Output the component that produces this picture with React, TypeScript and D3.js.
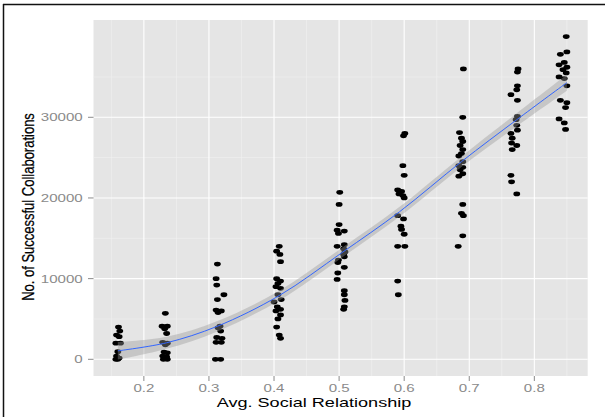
import React from "react";
import * as d3 from "d3";

// ---- data ----
const g016: [number, number][] = [[0.161,4000],[0.163,3500],[0.158,3000],[0.162,2800],[0.157,2000],[0.164,2000],[0.160,950],[0.158,400],[0.162,150],[0.160,0],[0.157,0]];
const g023: [number, number][] = [[0.233,5700],[0.228,4100],[0.236,4100],[0.232,3800],[0.235,3200],[0.229,2100],[0.236,2000],[0.233,1800],[0.231,900],[0.236,800],[0.229,400],[0.235,300],[0.230,0],[0.236,0]];
const g031: [number, number][] = [[0.313,11800],[0.311,10000],[0.312,9200],[0.323,8000],[0.313,7400],[0.311,6100],[0.319,6000],[0.314,5800],[0.317,4100],[0.314,3900],[0.318,3500],[0.312,2700],[0.320,2600],[0.311,2100],[0.319,2100],[0.310,0],[0.318,0]];
const g041: [number, number][] = [[0.408,14000],[0.404,13400],[0.409,13000],[0.410,12100],[0.404,10000],[0.410,9700],[0.406,9400],[0.403,9000],[0.410,8800],[0.406,8000],[0.411,7400],[0.400,7100],[0.405,6500],[0.410,6200],[0.403,6000],[0.410,5500],[0.406,5000],[0.404,4000],[0.408,3000],[0.410,2600]];
const g050: [number, number][] = [[0.501,20700],[0.500,19200],[0.500,16700],[0.497,16000],[0.508,15900],[0.499,15600],[0.508,14200],[0.497,14000],[0.507,13700],[0.509,13300],[0.507,13000],[0.508,12700],[0.499,12300],[0.498,12000],[0.508,11400],[0.498,10700],[0.497,9900],[0.508,8500],[0.508,8000],[0.509,7300],[0.508,6500],[0.507,6200]];
const g059: [number, number][] = [[0.601,28000],[0.599,27700],[0.598,24000],[0.600,22800],[0.590,21000],[0.596,20800],[0.592,20500],[0.598,20300],[0.600,20000],[0.590,17800],[0.599,17400],[0.595,16500],[0.596,16100],[0.600,15500],[0.590,14000],[0.601,14000],[0.590,9700],[0.591,8000]];
const g069: [number, number][] = [[0.691,36000],[0.690,30000],[0.685,28100],[0.688,27400],[0.690,27000],[0.686,26500],[0.690,26000],[0.688,25500],[0.684,25200],[0.690,24500],[0.684,24000],[0.690,23800],[0.686,23500],[0.690,23000],[0.684,22700],[0.690,19200],[0.688,18100],[0.691,17800],[0.690,15300],[0.683,14000]];
const g077: [number, number][] = [[0.775,36000],[0.774,35600],[0.774,33900],[0.773,33400],[0.764,32800],[0.774,32100],[0.774,30100],[0.772,29700],[0.773,29000],[0.774,28400],[0.764,28000],[0.766,27400],[0.765,26800],[0.773,26500],[0.766,26000],[0.764,22800],[0.765,22000],[0.773,20500]];
const g085: [number, number][] = [[0.849,40000],[0.850,38100],[0.840,37800],[0.846,36800],[0.838,36500],[0.850,36200],[0.844,35900],[0.849,35500],[0.838,35000],[0.846,34800],[0.850,33900],[0.840,32100],[0.850,31800],[0.848,31200],[0.838,29800],[0.846,29300],[0.848,28500]];
const groups = [g016, g023, g031, g041, g050, g059, g069, g077, g085];

// smoothing curve (fitted values and standard error half-width)
const smoothX = [0.16, 0.235, 0.313, 0.408, 0.504, 0.593, 0.688, 0.773, 0.85];
const smoothY = [1050, 2050, 4100, 7900, 13200, 18300, 24500, 29700, 34300];
const smoothSE = [1100, 750, 650, 600, 600, 600, 650, 800, 1000];

const xTicks = [0.2, 0.3, 0.4, 0.5, 0.6, 0.7, 0.8];
const xMinor = [0.15, 0.25, 0.35, 0.45, 0.55, 0.65, 0.75, 0.85];
const yTicks = [0, 10000, 20000, 30000];
const yMinor = [5000, 15000, 25000, 35000];

const xTitle = "Avg. Social Relationship";
const yTitle = "No. of Successful Collaborations";

const W = 605, H = 417;
const P = { left: 93.5, right: 587.7, top: 20, bottom: 376 };
const SX = 1.37; // horizontal stretch of the reference image

export default function App() {
  const x = d3.scaleLinear().domain([0.1226, 0.882]).range([P.left, P.right]);
  const y = d3.scaleLinear().domain([-2070, 42060]).range([P.bottom, P.top]);

  const sm = smoothX.map((v, i) => ({ x: v, y: smoothY[i], se: smoothSE[i] }));
  const line = d3.line<any>().x(d => x(d.x)).y(d => y(d.y)).curve(d3.curveCatmullRom);
  const area = d3.area<any>().x(d => x(d.x)).y0(d => y(d.y - d.se)).y1(d => y(d.y + d.se)).curve(d3.curveCatmullRom);

  const tickColor = "#8a8a8a";
  const font = "'Liberation Sans', Arial, sans-serif";

  return (
    <svg width={W} height={H} style={{ position: "absolute", left: 0, top: 0, background: "#fff" }} fontFamily={font}>
      <rect x={0} y={0} width={W} height={H} fill="#fff" />
      {/* panel */}
      <rect x={P.left} y={P.top} width={P.right - P.left} height={P.bottom - P.top} fill="#e5e5e5" />
      {xMinor.map(v => <line key={"xm" + v} x1={x(v)} x2={x(v)} y1={P.top} y2={P.bottom} stroke="#f2f2f2" strokeWidth={0.6} />)}
      {yMinor.map(v => <line key={"ym" + v} y1={y(v)} y2={y(v)} x1={P.left} x2={P.right} stroke="#f2f2f2" strokeWidth={0.6} />)}
      {xTicks.map(v => <line key={"xg" + v} x1={x(v)} x2={x(v)} y1={P.top} y2={P.bottom} stroke="#fff" strokeWidth={1.1} />)}
      {yTicks.map(v => <line key={"yg" + v} y1={y(v)} y2={y(v)} x1={P.left} x2={P.right} stroke="#fff" strokeWidth={1.1} />)}

      {/* points */}
      {groups.map((g, gi) => g.map((p, i) => (
        <ellipse key={gi + "-" + i} cx={x(p[0])} cy={y(p[1])} rx={3.4} ry={2.4} fill="#000" />
      )))}

      {/* smooth */}
      <path d={area(sm) || ""} fill="#999999" fillOpacity={0.4} />
      <path d={line(sm) || ""} fill="none" stroke="#3366ff" strokeWidth={1} />

      {/* axes ticks */}
      {xTicks.map(v => (
        <g key={"xt" + v}>
          <line x1={x(v)} x2={x(v)} y1={P.bottom} y2={P.bottom + 5} stroke={tickColor} strokeWidth={1} />
          <text transform={`translate(${x(v)},${392}) scale(${SX},1)`} textAnchor="middle" fontSize={11} fill={tickColor}>{v.toFixed(1)}</text>
        </g>
      ))}
      {yTicks.map(v => (
        <g key={"yt" + v}>
          <line x1={P.left - 5.5} x2={P.left} y1={y(v)} y2={y(v)} stroke={tickColor} strokeWidth={1} />
          <text transform={`translate(${82.7},${y(v) + 4}) scale(${SX},1)`} textAnchor="end" fontSize={11} fill={tickColor}>{String(v)}</text>
        </g>
      ))}

      {/* titles */}
      <text transform={`translate(314,406.5) scale(${SX},1)`} textAnchor="middle" fontSize={13.2} fill="#000">{xTitle}</text>
      <text transform={`translate(33.8,207) scale(1.3,1) rotate(-90)`} textAnchor="middle" fontSize={13} fill="#000" stroke="#000" strokeWidth={0.2}>{yTitle}</text>

      {/* outer frame */}
      <line x1={3} x2={W} y1={4.5} y2={4.5} stroke="#111" strokeWidth={1.5} />
      <line x1={3.5} x2={3.5} y1={4} y2={H} stroke="#111" strokeWidth={1.5} />
    </svg>
  );
}
